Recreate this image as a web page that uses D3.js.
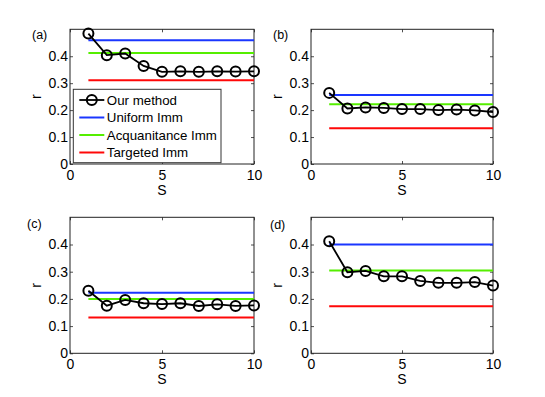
<!DOCTYPE html>
<html>
<head>
<meta charset="utf-8">
<script src="https://cdn.jsdelivr.net/npm/d3@7"></script>
<style>
  body { margin: 0; background: #fff; }
  svg { display: block; font-family: "Liberation Sans", Arial, Helvetica, sans-serif; }
  .tick text { font-size: 14px; fill: #000; }
</style>
</head>
<body>
<div id="viz"></div>
<script>
// data
var steps = [1, 2, 3, 4, 5, 6, 7, 8, 9, 10];
var panelNames = ["(a)", "(b)", "(c)", "(d)"];
var ourMethod = [
  [0.484, 0.404, 0.410, 0.364, 0.342, 0.344, 0.342, 0.344, 0.343, 0.344],
  [0.264, 0.206, 0.210, 0.208, 0.204, 0.204, 0.200, 0.202, 0.199, 0.193],
  [0.230, 0.175, 0.196, 0.184, 0.181, 0.184, 0.174, 0.180, 0.174, 0.176],
  [0.412, 0.298, 0.303, 0.283, 0.283, 0.266, 0.259, 0.259, 0.262, 0.249]
];
var uniformImm = [0.459, 0.256, 0.223, 0.400];
var acquaintanceImm = [0.412, 0.222, 0.200, 0.304];
var targetedImm = [0.311, 0.133, 0.132, 0.173];
var xTicks = [0, 5, 10];
var yTicks = [0, 0.1, 0.2, 0.3, 0.4];
var legendNames = ["Our method", "Uniform Imm", "Acquanitance Imm", "Targeted Imm"];

var colors = { ours: "#000", uniform: "#1a36ff", acq: "#55ee00", targ: "#ff0808" };

var width = 545, height = 397;
var svg = d3.select("#viz").append("svg")
    .attr("width", width)
    .attr("height", height);

// subplot boxes and where the (a)..(d) tags sit
var boxes = [
  {left: 70,  top: 29.3,  w: 184, h: 134.7, tagX: -38, tagY: 10},
  {left: 311, top: 29.3,  w: 182, h: 134.7, tagX: -38, tagY: 10},
  {left: 70,  top: 217.3, w: 184, h: 136,   tagX: -43, tagY: 11},
  {left: 311, top: 217.3, w: 182, h: 136,   tagX: -41, tagY: 12}
];

boxes.forEach(function(b, i){
    var g = svg.append("g").attr("transform", "translate(" + b.left + "," + b.top + ")");

    var x = d3.scaleLinear().domain([0, 10]).range([0, b.w]),
        y = d3.scaleLinear().domain([0, 0.5]).range([b.h, 0]);

    // axes, ticks inside like matlab
    g.append("g").attr("transform", "translate(0," + b.h + ")")
        .call(d3.axisBottom(x).tickValues(xTicks).tickSize(-3).tickPadding(6).tickFormat(d3.format("d")));
    g.append("g")
        .call(d3.axisLeft(y).tickValues(yTicks).tickSize(-3).tickPadding(2).tickFormat(function(d){ return d === 0 ? "0" : d3.format(".1f")(d); }));
    g.append("g")
        .call(d3.axisTop(x).tickValues(xTicks).tickSize(-3).tickFormat(""));
    g.append("g").attr("transform", "translate(" + b.w + ",0)")
        .call(d3.axisRight(y).tickValues(yTicks).tickSize(-3).tickFormat(""));
    g.selectAll(".domain").remove();
    g.selectAll(".tick line").attr("stroke", "#222").attr("stroke-width", 0.8);

    g.append("rect")
        .attr("width", b.w).attr("height", b.h)
        .attr("fill", "none").attr("stroke", "#222").attr("stroke-width", 1);

    // reference strategies
    var refs = [
        {v: uniformImm[i], c: colors.uniform},
        {v: acquaintanceImm[i], c: colors.acq},
        {v: targetedImm[i], c: colors.targ}
    ];
    g.selectAll(".ref").data(refs).enter().append("line")
        .attr("class", "ref")
        .attr("x1", x(steps[0])).attr("x2", x(steps[steps.length - 1]))
        .attr("y1", function(d){ return y(d.v); })
        .attr("y2", function(d){ return y(d.v); })
        .attr("stroke", function(d){ return d.c; })
        .attr("stroke-width", 2);

    var line = d3.line()
        .x(function(d, k){ return x(steps[k]); })
        .y(function(d){ return y(d); });

    g.append("path")
        .datum(ourMethod[i])
        .attr("d", line)
        .attr("fill", "none").attr("stroke", colors.ours).attr("stroke-width", 1.8);

    g.selectAll(".pt").data(ourMethod[i]).enter().append("circle")
        .attr("class", "pt")
        .attr("cx", function(d, k){ return x(steps[k]); })
        .attr("cy", function(d){ return y(d); })
        .attr("r", 5)
        .attr("fill", "none").attr("stroke", colors.ours).attr("stroke-width", 2);

    // labels
    g.append("text")
        .attr("x", b.w / 2).attr("y", b.h + 31)
        .attr("text-anchor", "middle").attr("font-size", 14)
        .text("S");
    g.append("text")
        .attr("transform", "translate(-29," + (b.h / 2) + ") rotate(-90)")
        .attr("text-anchor", "middle").attr("font-size", 14)
        .text("r");
    g.append("text")
        .attr("x", b.tagX).attr("y", b.tagY)
        .attr("font-size", 12.5)
        .text(panelNames[i]);

    // legend only in the first panel
    if (i === 0) {
        var lg = g.append("g").attr("transform", "translate(3.3,60)");
        lg.append("rect")
            .attr("width", 147.7).attr("height", 73.4)
            .attr("fill", "#fff").attr("stroke", "#333").attr("stroke-width", 1);
        var legColors = [colors.ours, colors.uniform, colors.acq, colors.targ];
        legendNames.forEach(function(name, k){
            var yy = 10.7 + k * 17.5;
            lg.append("line")
                .attr("x1", 6).attr("x2", 31).attr("y1", yy).attr("y2", yy)
                .attr("stroke", legColors[k]).attr("stroke-width", k === 0 ? 1.8 : 2);
            if (k === 0) {
                lg.append("circle").attr("cx", 18.5).attr("cy", yy).attr("r", 5)
                    .attr("fill", "none").attr("stroke", "#000").attr("stroke-width", 2);
            }
            lg.append("text")
                .attr("x", 33.5).attr("y", yy + 4.8)
                .attr("font-size", 13.3)
                .text(name);
        });
    }
});
</script>
</body>
</html>
